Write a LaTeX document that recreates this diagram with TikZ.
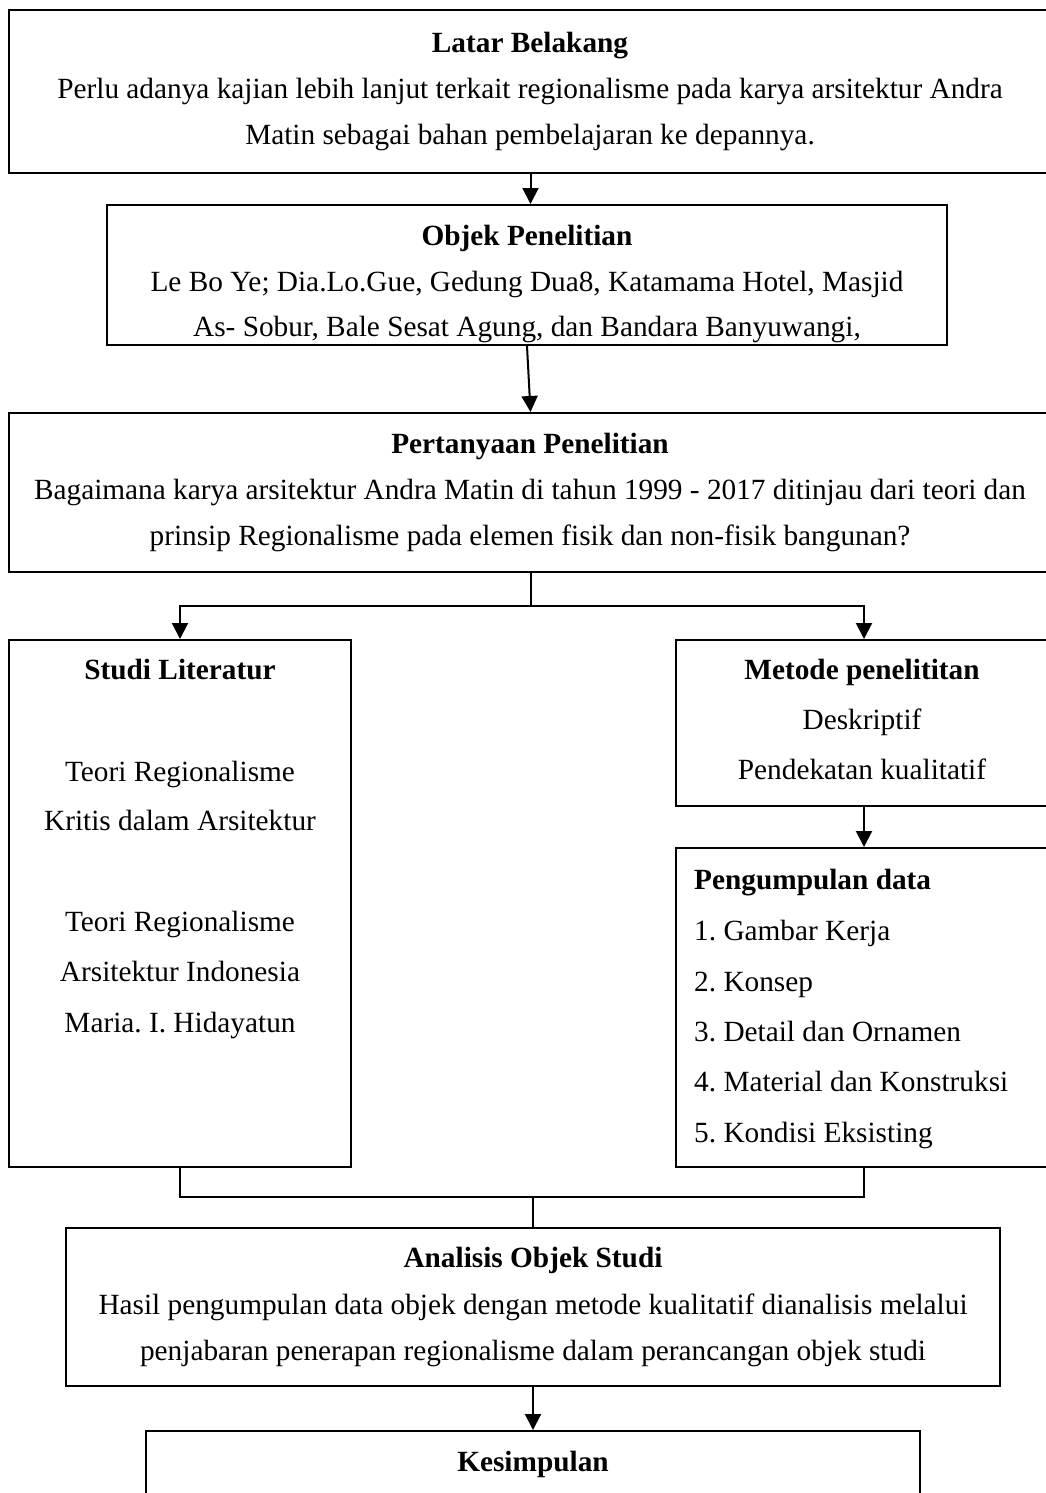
\documentclass[tikz,border=0pt]{standalone}
\usepackage{fontspec}
\setmainfont{Liberation Serif}
\usetikzlibrary{arrows.meta}
\frenchspacing
\begin{document}
\begin{tikzpicture}[x=1pt,y=-1pt,
  box/.style={draw, line width=2pt, inner sep=0pt},
  conn/.style={line width=2pt},
  arr/.style={line width=2pt, -{Triangle[width=16pt,length=16pt]}},
  txt/.style={anchor=base, inner sep=0pt, font=\fontsize{29.3}{34}\selectfont},
  ttl/.style={txt, font=\fontsize{29.3}{34}\selectfont\bfseries},
  ltxt/.style={txt, anchor=base west}]
\useasboundingbox (0,0) rectangle (1046,1493);
% boxes
\node[box, minimum width=1043pt, minimum height=163pt] (latar) at (530.5,91.5) {};
\node[box, minimum width=840pt, minimum height=140pt] (objek) at (527,275) {};
\node[box, minimum width=1043pt, minimum height=159pt] (pert) at (530.5,492.5) {};
\node[box, minimum width=342pt, minimum height=527pt] (studi) at (180,903.5) {};
\node[box, minimum width=376pt, minimum height=166pt] (metode) at (864,723) {};
\node[box, minimum width=376pt, minimum height=319pt] (kumpul) at (864,1007.5) {};
\node[box, minimum width=934pt, minimum height=158pt] (analisis) at (533,1307) {};
\node[box, minimum width=774pt, minimum height=129pt] (simpul) at (533,1495.5) {};
% texts
\node[ttl] (t1) at (530,53) {Latar Belakang};
\node[txt] (t2) at (530,99) {Perlu adanya kajian lebih lanjut terkait regionalisme pada karya arsitektur Andra};
\node[txt] (t3) at (530,145) {Matin sebagai bahan pembelajaran ke depannya.};
\node[ttl] (t4) at (527,245) {Objek Penelitian};
\node[txt] (t5) at (527,291) {Le Bo Ye; Dia.Lo.Gue, Gedung Dua8, Katamama Hotel, Masjid};
\node[txt] (t6) at (527,336) {As- Sobur, Bale Sesat Agung, dan Bandara Banyuwangi,};
\node[ttl] (t7) at (530,453) {Pertanyaan Penelitian};
\node[txt] (t8) at (530,499) {Bagaimana karya arsitektur Andra Matin di tahun 1999 - 2017 ditinjau dari teori dan};
\node[txt] (t9) at (530,545) {prinsip Regionalisme pada elemen fisik dan non-fisik bangunan?};
\node[ttl] (t10) at (180,679) {Studi Literatur};
\node[txt] (t11) at (180,781) {Teori Regionalisme};
\node[txt] (t12) at (180,830) {Kritis dalam Arsitektur};
\node[txt] (t13) at (180,931) {Teori Regionalisme};
\node[txt] (t14) at (180,981) {Arsitektur Indonesia};
\node[txt] (t15) at (180,1032) {Maria. I. Hidayatun};
\node[ttl] (t16) at (862,679) {Metode penelititan};
\node[txt] (t17) at (862,729) {Deskriptif};
\node[txt] (t18) at (862,779) {Pendekatan kualitatif};
\node[ltxt, font=\fontsize{29.3}{34}\selectfont\bfseries] (t19) at (694,889) {Pengumpulan data};
\node[ltxt] (t20) at (694,940) {1. Gambar Kerja};
\node[ltxt] (t21) at (694,991) {2. Konsep};
\node[ltxt] (t22) at (694,1041) {3. Detail dan Ornamen};
\node[ltxt] (t23) at (694,1091) {4. Material dan Konstruksi};
\node[ltxt] (t24) at (694,1142) {5. Kondisi Eksisting};
\node[ttl] (t25) at (533,1267) {Analisis Objek Studi};
\node[txt] (t26) at (533,1314) {Hasil pengumpulan data objek dengan metode kualitatif dianalisis melalui};
\node[txt] (t27) at (533,1360) {penjabaran penerapan regionalisme dalam perancangan objek studi};
\node[ttl] (t28) at (533,1471) {Kesimpulan};
% connectors
\coordinate (split) at (530,606);
\coordinate (join) at (533,1197);
\draw[arr] (latar.south) -- (latar.south |- objek.north);
\draw[arr] (objek.south) -- (pert.north);
\draw[conn] (pert.south) -- (pert.south |- split);
\draw[arr] (pert.south |- split) -| (studi.north);
\draw[arr] (pert.south |- split) -| (metode.north);
\draw[arr] (metode.south) -- (kumpul.north);
\draw[conn] (studi.south) |- (join) -| (kumpul.south);
\draw[conn] (join) -- (analisis.north);
\draw[arr] (analisis.south) -- (simpul.north);
\end{tikzpicture}
\end{document}
